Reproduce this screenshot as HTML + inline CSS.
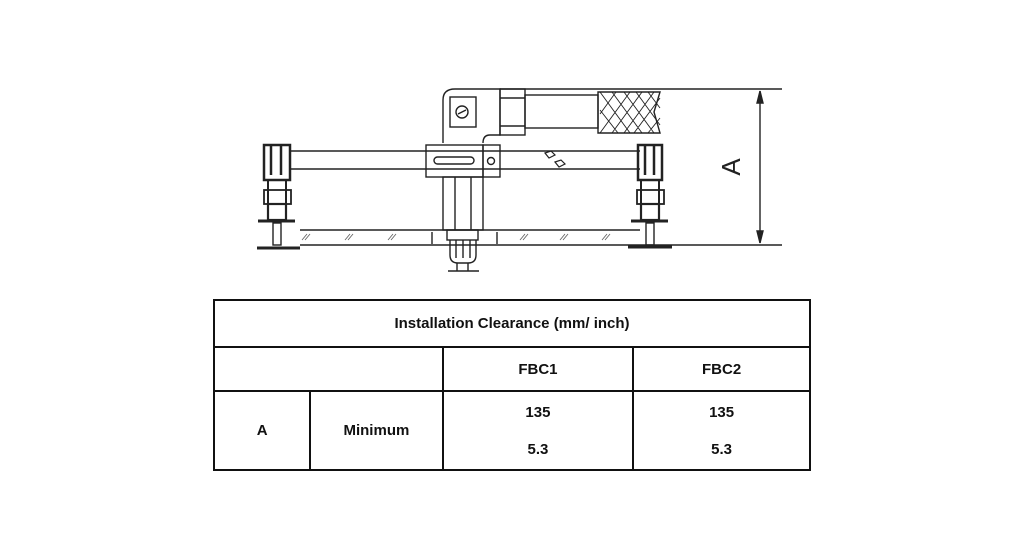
<!DOCTYPE html>
<html><head><meta charset="utf-8"><style>
body{margin:0;background:#fff;width:1024px;height:536px;overflow:hidden;position:relative;font-family:"Liberation Sans",sans-serif}
table{position:absolute;left:213px;top:299px;border-collapse:collapse;width:598px;height:172px}
td{border:2px solid #111;text-align:center;font-size:15px;font-weight:bold;color:#111;padding:0}
</style></head><body>
<svg width="1024" height="300" style="position:absolute;left:0;top:0" fill="none" stroke="#222" stroke-width="1.4">
<line x1="500" y1="89" x2="782" y2="89"/>
<line x1="300" y1="245" x2="782" y2="245"/>
<line x1="760" y1="91" x2="760" y2="243"/>
<path d="M760 91 l-3 12 h6z M760 243 l-3 -12 h6z" fill="#222"/>
<text x="745" y="172" font-family="Liberation Sans" font-size="26" fill="#222" stroke="none" transform="rotate(-90 740 172)" text-anchor="middle">A</text>
<line x1="290" y1="151" x2="640" y2="151"/>
<line x1="290" y1="169" x2="640" y2="169"/>
<path d="M545 153 l6 -2 l4 4 l-6 3z M555 162 l6 -2 l4 4 l-6 3z" stroke-width="1.2"/>
<path d="M443 143 V100 q0 -11 12 -11 H500 V135 H490 q-7 0 -7 8"/>
<rect x="450" y="97" width="26" height="30"/>
<circle cx="462" cy="112" r="6"/>
<line x1="458" y1="114" x2="466" y2="110"/>
<rect x="500" y="89" width="25" height="46"/>
<line x1="500" y1="98" x2="525" y2="98"/><line x1="500" y1="126" x2="525" y2="126"/>
<rect x="525" y="95" width="73" height="33"/>
<path d="M598 92 H660 l-6 20 l6 21 H598z"/>
<path d="M600 92 l30 41 M612 92 l30 41 M624 92 l30 41 M636 92 l24 33 M648 92 l12 16 M600 110 l18 23 M630 92 l-30 41 M642 92 l-30 41 M654 92 l-30 41 M660 98 l-26 35 M660 118 l-12 15 M616 92 l-16 22" stroke-width="0.9"/>
<rect x="426" y="145" width="57" height="32"/>
<rect x="434" y="157" width="40" height="7" rx="3.5"/>
<rect x="483" y="145" width="17" height="32"/>
<circle cx="491" cy="161" r="3.5"/>
<rect x="443" y="177" width="40" height="53"/>
<line x1="455" y1="177" x2="455" y2="230"/><line x1="471" y1="177" x2="471" y2="230"/>
<rect x="447" y="230" width="31" height="10"/>
<path d="M450 240 v15 q0 8 8 8 h10 q8 0 8 -8 v-15 M456 240 v18 M463 240 v18 M470 240 v18"/>
<path d="M457 263 v8 M468 263 v8 M448 271 h31"/>
<line x1="300" y1="230" x2="640" y2="230"/>
<line x1="432" y1="232" x2="432" y2="244"/><line x1="497" y1="232" x2="497" y2="244"/>
<g stroke-width="0.9" stroke="#666">
<path d="M302 240 l5 -6 M305 240 l5 -6 M345 240 l5 -6 M348 240 l5 -6 M388 240 l5 -6 M391 240 l5 -6 M520 240 l5 -6 M523 240 l5 -6 M560 240 l5 -6 M563 240 l5 -6 M602 240 l5 -6 M605 240 l5 -6"/>
</g>
<g>
<rect x="264" y="145" width="26" height="35" stroke-width="2.5"/>
<line x1="271" y1="145" x2="271" y2="175" stroke-width="2.5"/><line x1="281" y1="145" x2="281" y2="175" stroke-width="2.5"/>
<path d="M268 180 V220 M286 180 V220" stroke-width="2"/>
<rect x="264" y="190" width="27" height="14" stroke-width="1.8"/>
<rect x="268" y="204" width="18" height="16" stroke-width="2.2"/>
<line x1="258" y1="221" x2="295" y2="221" stroke-width="3"/>
<rect x="273" y="223" width="8" height="22"/>
<line x1="257" y1="248" x2="300" y2="248" stroke-width="3"/>
</g>
<g>
<rect x="638" y="145" width="24" height="35" stroke-width="2.5"/>
<line x1="645" y1="145" x2="645" y2="175" stroke-width="2.5"/><line x1="654" y1="145" x2="654" y2="175" stroke-width="2.5"/>
<path d="M641 180 V220 M659 180 V220" stroke-width="2"/>
<rect x="637" y="190" width="27" height="14" stroke-width="1.8"/>
<rect x="641" y="204" width="18" height="16" stroke-width="2.2"/>
<line x1="631" y1="221" x2="668" y2="221" stroke-width="3"/>
<rect x="646" y="223" width="8" height="22"/>
<line x1="628" y1="247" x2="672" y2="247" stroke-width="3"/>
</g>
</svg>
<table>
<tr style="height:47px"><td colspan="4">Installation Clearance (mm/ inch)</td></tr>
<tr style="height:44px"><td colspan="2"></td><td style="width:190px">FBC1</td><td style="width:176px">FBC2</td></tr>
<tr><td style="width:95px">A</td><td style="width:131px">Minimum</td><td><div style="line-height:37px">135<br>5.3</div></td><td><div style="line-height:37px">135<br>5.3</div></td></tr>
</table>
</body></html>
